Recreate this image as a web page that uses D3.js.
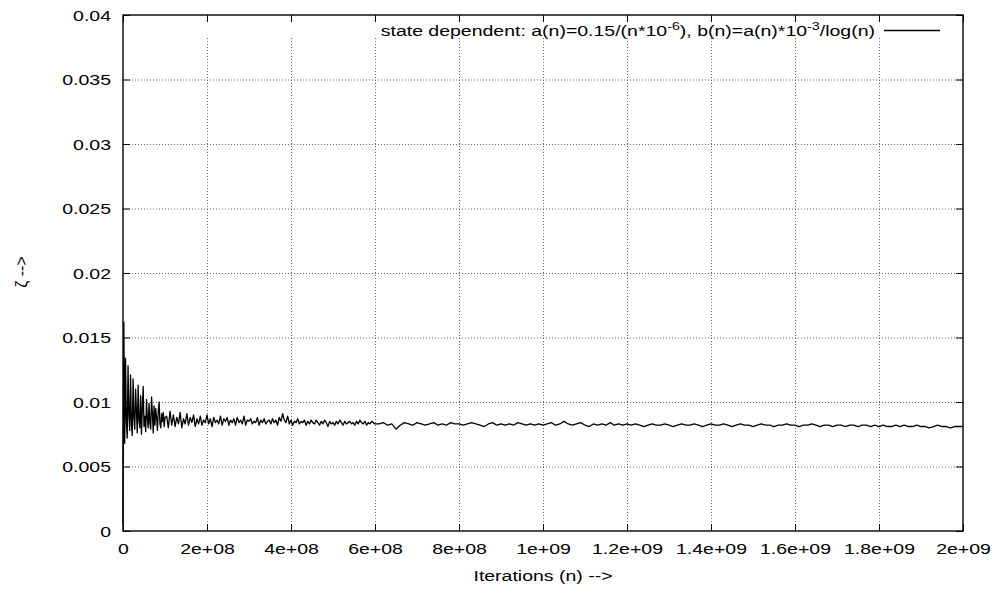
<!DOCTYPE html>
<html><head><meta charset="utf-8">
<script src="https://cdn.jsdelivr.net/npm/d3@7"></script>
<style>
html,body{margin:0;padding:0;background:#fff;}
text{font-family:"Liberation Sans",Arial,Helvetica,sans-serif;fill:#000;}
</style></head>
<body><svg id="c" width="997" height="589"></svg>
<script>
// ---- data ----
const xTickValues = [0,2e8,4e8,6e8,8e8,1e9,1.2e9,1.4e9,1.6e9,1.8e9,2e9];
const xTickLabels = ["0","2e+08","4e+08","6e+08","8e+08","1e+09","1.2e+09","1.4e+09","1.6e+09","1.8e+09","2e+09"];
const yTickValues = [0,0.005,0.01,0.015,0.02,0.025,0.03,0.035,0.04];
const yTickLabels = ["0","0.005","0.01","0.015","0.02","0.025","0.03","0.035","0.04"];
const seriesName = "state dependent";
const xLabel = "Iterations (n) -->";
const yLabel = "\u03b6 -->";

// segment A: iterations 0 .. 1e8, logged every 2e6
const segAStart = 0, segAStep = 2e6;
const segAValues = [
0.0005,0.0162,0.0068,0.0134,0.0085,0.0072,0.0128,0.0090,0.0078,0.0121,
0.0083,0.0074,0.0118,0.0088,0.0079,0.0110,0.0093,0.0076,0.0113,0.0086,
0.0080,0.0105,0.0075,0.0095,0.0112,0.0081,0.0089,0.0077,0.0102,0.0087,
0.0080,0.0099,0.0084,0.0079,0.0104,0.0091,0.0076,0.0097,0.0082,0.0095,
0.0088,0.0078,0.0093,0.0100,0.0083,0.0080,0.0091,0.0085,0.0092,0.0081,0.0088];
// segment B: 1.04e8 .. 6e8, logged every 4e6
const segBStart = 1.04e8, segBStep = 4e6;
const segBValues = [
0.0089,0.0080,0.0093,0.0082,0.0090,0.0081,0.0088,0.0083,0.0092,0.0080,
0.0087,0.0083,0.0091,0.0082,0.0088,0.0084,0.0090,0.0081,0.0087,0.0083,
0.0089,0.0082,0.0086,0.0084,0.0090,0.0083,0.0087,0.0081,0.0088,0.0084,
0.0086,0.0083,0.0089,0.0082,0.0087,0.0085,0.0088,0.0082,0.0086,0.0084,
0.0087,0.0082,0.0088,0.0084,0.0086,0.0083,0.0089,0.0082,0.0086,0.0085,
0.0087,0.0083,0.0085,0.0084,0.0088,0.0082,0.0086,0.0084,0.0087,0.0083,
0.0085,0.0086,0.0083,0.0087,0.0084,0.0086,0.0082,0.0088,0.0085,0.0091,
0.0086,0.0084,0.0089,0.0083,0.0086,0.0082,0.0085,0.0084,0.0087,0.0083,
0.0085,0.0084,0.0086,0.0082,0.0085,0.0083,0.0086,0.0084,0.0083,0.0086,
0.0084,0.0082,0.0085,0.0083,0.0086,0.0084,0.0081,0.0085,0.0083,0.0084,
0.0082,0.0085,0.0083,0.0086,0.0084,0.0082,0.0085,0.0083,0.0084,0.0085,
0.0083,0.0084,0.0082,0.0085,0.0083,0.0086,0.0084,0.0083,0.0085,0.0082,
0.0084,0.0083,0.0085,0.0084,0.0083];
// segment C: 6.1e8 .. 2e9, logged every 1e7
const segCStart = 6.1e8, segCStep = 1e7;
const segCValues = [
0.0083,0.0084,0.0082,0.0083,0.0079,0.0082,0.0084,0.0083,0.0082,0.0084,
0.0083,0.0082,0.0083,0.0084,0.0082,0.0083,0.0082,0.0084,0.0083,0.0083,
0.0082,0.0083,0.0084,0.0083,0.0082,0.0081,0.0083,0.0084,0.0082,0.0083,
0.0082,0.0083,0.0082,0.0084,0.0083,0.0082,0.0083,0.0082,0.0083,0.0082,
0.0083,0.0084,0.0082,0.0083,0.0085,0.0083,0.0082,0.0083,0.0084,0.0082,
0.0081,0.0083,0.0082,0.0083,0.0082,0.0084,0.0082,0.0083,0.0082,0.0083,
0.0082,0.0083,0.0082,0.0081,0.0082,0.0083,0.0082,0.0082,0.0083,0.0082,
0.0081,0.0082,0.0083,0.0082,0.0082,0.0083,0.0082,0.0081,0.0082,0.0083,
0.0082,0.0082,0.0083,0.0082,0.0081,0.0082,0.0083,0.0082,0.0082,0.0081,
0.0082,0.0083,0.0082,0.0082,0.0081,0.0082,0.0082,0.0083,0.0082,0.0082,
0.0081,0.0082,0.0082,0.0083,0.0082,0.0081,0.0082,0.0082,0.0081,0.0082,
0.0082,0.0081,0.0082,0.0082,0.0081,0.0082,0.0082,0.0081,0.0082,0.0081,
0.0082,0.0081,0.0081,0.0082,0.0081,0.0082,0.0081,0.0081,0.0082,0.0081,
0.0081,0.0080,0.0081,0.0082,0.0081,0.0081,0.0080,0.0081,0.0081,0.0081];

// ---- build table ----
const data = [];
[[segAStart,segAStep,segAValues],[segBStart,segBStep,segBValues],[segCStart,segCStep,segCValues]]
  .forEach(([s,st,vals]) => vals.forEach((v,i) => data.push({n: s + i*st, z: v})));

// ---- layout ----
const W = 997, H = 589;
const M = {left:123, right:34, top:15, bottom:58};
const SX = 1.3; // horizontal stretch of gnuplot text
const svg = d3.select("#c");
const x = d3.scaleLinear().domain([0,2e9]).range([M.left, W - M.right]);
const y = d3.scaleLinear().domain([0,0.04]).range([H - M.bottom, M.top]);
const x0 = x.range()[0], x1 = x.range()[1], y0 = y.range()[0], y1 = y.range()[1];

// grid
const grid = svg.append("g").attr("stroke","#555").attr("stroke-width",0.9).attr("stroke-dasharray","1,2");
grid.selectAll("line.gx").data(xTickValues.slice(1,-1)).join("line")
  .attr("x1", d=>x(d)+0.5).attr("x2", d=>x(d)+0.5)
  .attr("y1", y1 + 23).attr("y2", y0);
grid.selectAll("line.gy").data(yTickValues.slice(1,-1)).join("line")
  .attr("x1", x0).attr("x2", x1)
  .attr("y1", d=>y(d)+0.5).attr("y2", d=>y(d)+0.5);

// line
svg.append("path").datum(data)
  .attr("fill","none").attr("stroke","#000").attr("stroke-width",1.3).attr("stroke-linejoin","round")
  .attr("d", d3.line().x(d=>x(d.n)).y(d=>y(d.z)));

// axes
const fmtX = (d,i)=>xTickLabels[i], fmtY = (d,i)=>yTickLabels[i];
const gB = svg.append("g").attr("transform",`translate(0,${y0})`)
  .call(d3.axisBottom(x).tickValues(xTickValues).tickFormat(fmtX).tickSizeInner(-7).tickSizeOuter(0));
const gL = svg.append("g").attr("transform",`translate(${x0},0)`)
  .call(d3.axisLeft(y).tickValues(yTickValues).tickFormat(fmtY).tickSizeInner(-7).tickSizeOuter(0));
const gT = svg.append("g").attr("transform",`translate(0,${y1})`)
  .call(d3.axisTop(x).tickValues(xTickValues).tickFormat("").tickSizeInner(-7).tickSizeOuter(0));
const gR = svg.append("g").attr("transform",`translate(${x1},0)`)
  .call(d3.axisRight(y).tickValues(yTickValues).tickFormat("").tickSizeInner(-7).tickSizeOuter(0));
[gB,gL,gT,gR].forEach(g=>{ g.select(".domain").remove(); g.selectAll("line").attr("stroke","#000").attr("stroke-width",1); });
gB.selectAll("text").attr("font-size",15).attr("font-family","Liberation Sans, Arial, sans-serif")
  .attr("dy",null).attr("y",23).attr("transform",`scale(${SX},1)`);
gL.selectAll("text").attr("font-size",15).attr("font-family","Liberation Sans, Arial, sans-serif")
  .attr("x",-12/SX).attr("dy","0.35em").attr("transform",`scale(${SX},1)`);
gT.selectAll("text").remove(); gR.selectAll("text").remove();

// border
svg.append("rect").attr("x",x0).attr("y",y1).attr("width",x1-x0).attr("height",y0-y1)
  .attr("fill","none").attr("stroke","#000").attr("stroke-width",1.4);

// legend
const lg = svg.append("g").attr("transform",`translate(875,36)`);
const lt = lg.append("text").attr("text-anchor","end").attr("font-size",15).attr("transform",`scale(${SX},1)`);
lt.append("tspan").text(seriesName + ": a(n)=0.15/(n*10");
lt.append("tspan").attr("dy",-6).attr("font-size",11).text("-6");
lt.append("tspan").attr("dy",6).text("), b(n)=a(n)*10");
lt.append("tspan").attr("dy",-6).attr("font-size",11).text("-3");
lt.append("tspan").attr("dy",6).text("/log(n)");
svg.append("line").attr("x1",884).attr("x2",940).attr("y1",30.5).attr("y2",30.5)
  .attr("stroke","#000").attr("stroke-width",1.3);

// axis titles
const xt = svg.append("text").attr("transform",`translate(${(x0+x1)/2},581) scale(${SX},1)`)
  .attr("text-anchor","middle").attr("font-size",15).attr("letter-spacing",0);
xt.text(xLabel);
svg.append("text").attr("transform",`translate(27,272) rotate(-90)`)
  .attr("text-anchor","middle").attr("font-size",16).text(yLabel);
</script></body></html>
